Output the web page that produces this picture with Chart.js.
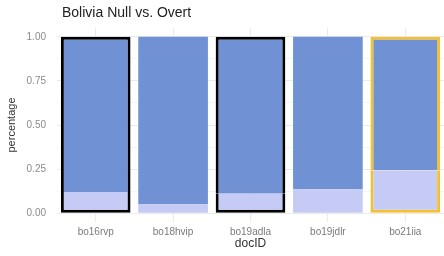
<!DOCTYPE html>
<html>
<head>
<meta charset="utf-8">
<script src="https://cdn.jsdelivr.net/npm/chart.js@4.4.0/dist/chart.umd.min.js"></script>
<style>
html,body{margin:0;padding:0;background:#fff;}
#wrap{width:444px;height:256px;position:relative;}
</style>
</head>
<body>
<div id="wrap"><canvas id="c" width="444" height="256"></canvas></div>
<script>
const categories = ['bo16rvp', 'bo18hvip', 'bo19adla', 'bo19jdlr', 'bo21iia'];
const nullShare  = [0.12, 0.05, 0.11, 0.136, 0.244];
const overtShare = [0.88, 0.95, 0.89, 0.864, 0.756];
const yTickValues = [0, 0.125, 0.25, 0.375, 0.5, 0.625, 0.75, 0.875, 1];
const yLabelValues = [0, 0.25, 0.5, 0.75, 1];
const chartTitle = 'Bolivia Null vs. Overt';

const outlineColors = ['#000000', 'rgba(0,0,0,0)', '#000000', 'rgba(0,0,0,0)', '#F2C12E'];
const outlineWidths = [3, 0, 3, 0, 3];

const titlePlugin = {
  id: 'ggTitle',
  afterDraw(chart) {
    const ctx = chart.ctx;
    ctx.save();
    ctx.font = '14px "Liberation Sans", Arial, sans-serif';
    ctx.fillStyle = '#222';
    ctx.textBaseline = 'middle';
    ctx.textAlign = 'left';
    ctx.fillText(chartTitle, 62, 13);
    ctx.restore();
  }
};

new Chart(document.getElementById('c'), {
  type: 'bar',
  data: {
    labels: categories,
    datasets: [
      {
        label: 'Null',
        data: nullShare,
        backgroundColor: '#C5CBF5',
        borderColor: outlineColors,
        borderWidth: outlineWidths,
        borderSkipped: 'top',
        categoryPercentage: 1,
        barPercentage: 0.9
      },
      {
        label: 'Overt',
        data: overtShare,
        backgroundColor: '#7092D4',
        borderColor: outlineColors,
        borderWidth: outlineWidths,
        borderSkipped: 'bottom',
        categoryPercentage: 1,
        barPercentage: 0.9
      }
    ]
  },
  options: {
    responsive: false,
    animation: false,
    layout: { padding: { top: 28, left: 0, right: 0, bottom: 0 } },
    plugins: {
      legend: { display: false },
      title: { display: false },
      tooltip: { enabled: false }
    },
    scales: {
      x: {
        stacked: true,
        offset: true,
        afterFit(s) { s.height = 34; },
        grid: { offset: false, color: '#EBEBEB', drawTicks: false },
        border: { display: false },
        ticks: { color: '#7A7A7A', font: { size: 10, family: '"Liberation Sans", Arial, sans-serif' }, padding: 4 },
        title: { display: true, text: 'docID', color: '#333', font: { size: 12, family: '"Liberation Sans", Arial, sans-serif' }, padding: { top: 2, bottom: 5 } }
      },
      y: {
        stacked: true,
        min: -0.05,
        max: 1.05,
        afterFit(s) { s.width = 57; },
        afterBuildTicks(s) { s.ticks = yTickValues.map(v => ({ value: v })); },
        grid: {
          drawTicks: false,
          color(ctx) {
            const v = ctx.tick ? ctx.tick.value : 0;
            return yLabelValues.includes(v) ? '#EBEBEB' : '#F5F5F5';
          }
        },
        border: { display: false },
        ticks: {
          color: '#8A8A8A',
          font: { size: 10, family: '"Liberation Sans", Arial, sans-serif' },
          padding: 11,
          autoSkip: false,
          callback(v) { return yLabelValues.includes(v) ? v.toFixed(2) : ''; }
        },
        title: { display: true, text: 'percentage', color: '#333', font: { size: 11, family: '"Liberation Sans", Arial, sans-serif' }, padding: { top: 5, bottom: 2 } }
      }
    }
  },
  plugins: [titlePlugin]
});
</script>
</body>
</html>
